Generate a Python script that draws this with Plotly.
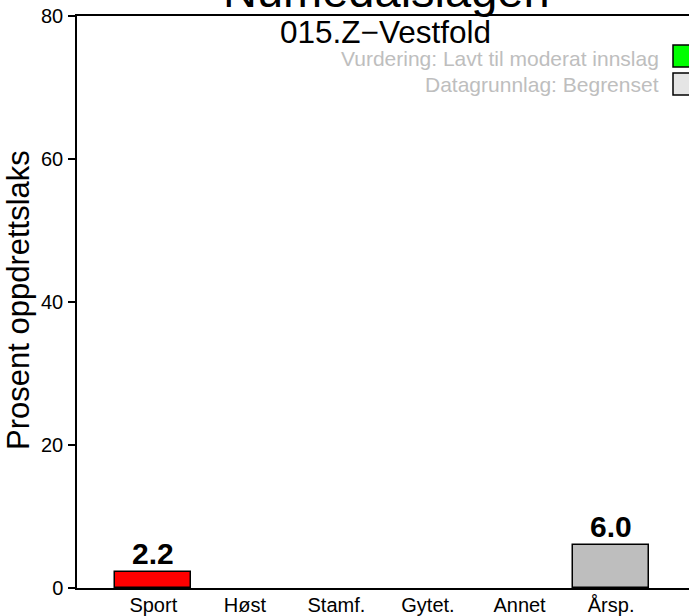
import plotly.graph_objects as go

# ---- data ----
categories = ["Sport", "Høst", "Stamf.", "Gytet.", "Annet", "Årsp."]
values = [2.2, 0.0, 0.0, 0.0, 0.0, 6.0]
bar_colors = ["#FF0000", "#FFFFFF", "#FFFFFF", "#FFFFFF", "#FFFFFF", "#BEBEBE"]
y_ticks = [0, 20, 40, 60, 80]
title_text = "Numedalslågen"
subtitle_text = "015.Z\u2212Vestfold"
legend_lines = ["Vurdering: Lavt til moderat innslag", "Datagrunnlag: Begrenset"]
legend_colors = ["#00FF00", "#E5E5E5"]

# ---- layout geometry (pixels) ----
W, H = 689, 616
L, R, T, B = 77, 0, 16, 28
pw = W - L - R
ph = H - T - B
x_lo = -0.3
px_per_unit = 76.3
x_hi = x_lo + pw / px_per_unit

positions = [0.7 + 1.2 * i for i in range(len(categories))]
line_widths = [1.5 if v > 0 else 0 for v in values]


def px_x(px):
    return (px - L) / pw


def px_y(py):
    return (H - B - py) / ph


FONT = "Liberation Sans, Arial, sans-serif"

fig = go.Figure()
fig.add_trace(go.Bar(
    x=positions, y=values, width=1.0,
    marker=dict(color=bar_colors, line=dict(color="black", width=line_widths)),
    hoverinfo="skip", showlegend=False,
))

annotations = []
for xpos, v in zip(positions, values):
    if v > 0:
        annotations.append(dict(
            x=xpos, y=v, xref="x", yref="y", text=f"<b>{v:.1f}</b>",
            showarrow=False, yanchor="bottom", yshift=0,
            font=dict(family=FONT, size=30, color="black"),
        ))

# title (clipped at top)
annotations.append(dict(
    x=px_x(386.5), y=px_y(-10), xref="paper", yref="paper", text=title_text,
    showarrow=False, xanchor="center", yanchor="middle",
    font=dict(family=FONT, size=47, color="black"),
))
annotations.append(dict(
    x=px_x(385.5), y=px_y(32), xref="paper", yref="paper", text=subtitle_text,
    showarrow=False, xanchor="center", yanchor="middle",
    font=dict(family=FONT, size=31.5, color="black"),
))
for i, txt in enumerate(legend_lines):
    annotations.append(dict(
        x=px_x(661), y=px_y(58.5 + 26 * i), xref="paper", yref="paper", text=txt,
        showarrow=False, xanchor="right", yanchor="middle",
        font=dict(family=FONT, size=21, color="#BEBEBE"),
    ))
# y axis title
annotations.append(dict(
    x=px_x(18), y=px_y(300), xref="paper", yref="paper",
    text="Prosent oppdrettslaks", textangle=-90,
    showarrow=False, xanchor="center", yanchor="middle",
    font=dict(family=FONT, size=31, color="black"),
))

shapes = []
for i, c in enumerate(legend_colors):
    y0 = 45 + 28 * i
    shapes.append(dict(
        type="rect", xref="paper", yref="paper",
        x0=px_x(673), x1=px_x(695), y0=px_y(y0), y1=px_y(y0 + 22),
        fillcolor=c, line=dict(color="black", width=1.5),
    ))

fig.update_layout(
    width=W, height=H,
    margin=dict(l=L, r=R, t=T, b=B, pad=0, autoexpand=False),
    paper_bgcolor="white", plot_bgcolor="white",
    bargap=0,
    annotations=annotations,
    shapes=shapes,
    xaxis=dict(
        range=[x_lo, x_hi], tickmode="array", tickvals=positions, ticktext=categories,
        showgrid=False, zeroline=False, showline=True, mirror=True, automargin=False,
        linecolor="black", linewidth=1.5, ticks="", ticklabelstandoff=-2,
        tickfont=dict(family=FONT, size=20, color="black"),
    ),
    yaxis=dict(
        range=[0, 80], tickmode="array", tickvals=y_ticks, automargin=False,
        showgrid=False, zeroline=False, showline=True, mirror=False,
        linecolor="black", linewidth=1.5, ticks="outside", ticklen=7, tickwidth=1.5,
        tickcolor="black", ticklabelstandoff=1,
        tickfont=dict(family=FONT, size=20, color="black"),
    ),
    font=dict(family=FONT),
)

fig.write_html("out.html", config={"displayModeBar": False},
               post_script="document.body.style.margin='0';")
